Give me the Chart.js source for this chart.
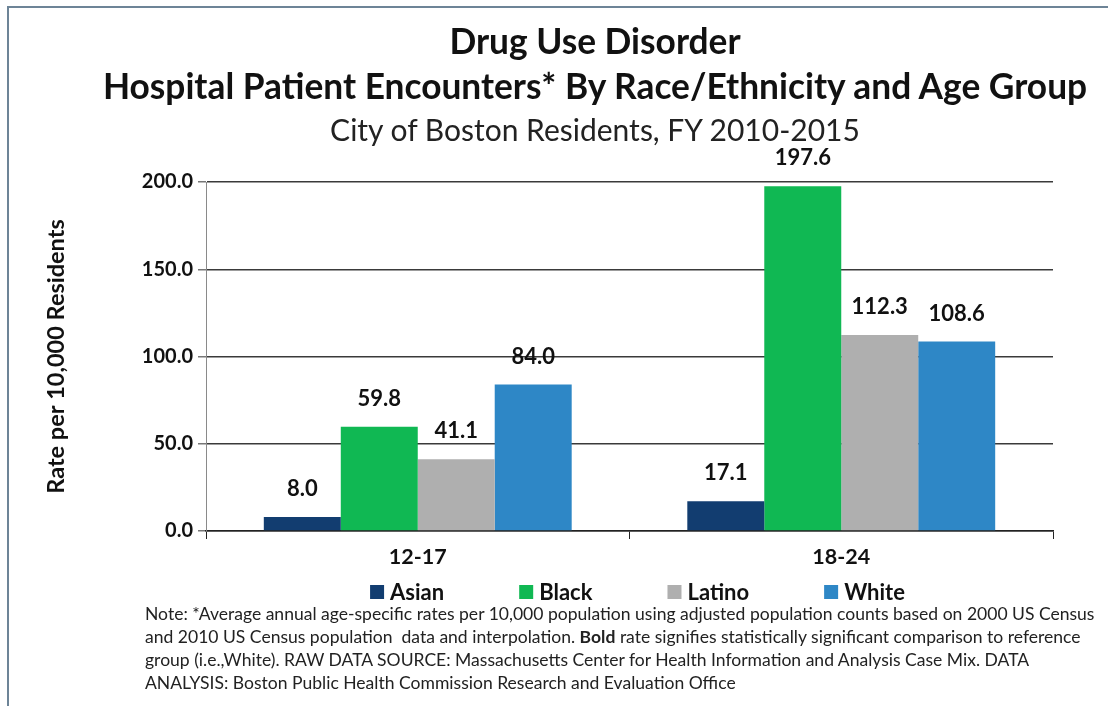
<!DOCTYPE html>
<html>
<head>
<meta charset="utf-8">
<title>Drug Use Disorder</title>
<script src="https://cdn.jsdelivr.net/npm/chart.js@4.4.1/dist/chart.umd.min.js"></script>
<style>
  html, body { margin: 0; padding: 0; background: #fff; width: 1108px; height: 706px; overflow: hidden; }
  #frame { position: absolute; left: 7px; top: 6px; width: 1200px; height: 800px;
           border-left: 2px solid #6d8497; border-top: 2px solid #6d8497; }
  #chart { position: absolute; left: 10px; top: 9px; }
  #titles { position: absolute; left: 10px; top: 17.5px; width: 1170px; text-align: center;
            font-family: Lato, sans-serif; color: #111; white-space: nowrap; }
  #titles .main { font-size: 35.3px; font-weight: bold; line-height: 45px; }
  #titles .sub { font-size: 30px; line-height: 43px; color: #222; }
  #note { position: absolute; left: 145px; top: 602px; font-family: Lato, sans-serif;
          font-size: 17px; line-height: 23px; color: #222; white-space: nowrap; }
  #note span { display: inline-block; }
</style>
</head>
<body>
<div id="frame"></div>
<canvas id="chart" width="1170" height="610"></canvas>
<div id="titles">
  <div class="main">Drug Use Disorder</div>
  <div class="main">Hospital Patient Encounters* By Race/Ethnicity and Age Group</div>
  <div class="sub">City of Boston Residents, FY 2010-2015</div>
</div>
<div id="note">
  <div><span id="noteFirst">Note: *Average annual age-specific rates per 10,000 population using adjusted population counts based on 2000 US Census</span></div>
  <div>and 2010 US Census population&nbsp; data and interpolation. <b>Bold</b> rate signifies statistically significant comparison to reference</div>
  <div>group (i.e.,White). RAW DATA SOURCE: Massachusetts Center for Health Information and Analysis Case Mix. DATA</div>
  <div>ANALYSIS: Boston Public Health Commission Research and Evaluation Office</div>
</div>
<script>
// Age groups on the x axis, one series per race/ethnicity
const ageGroups = ['12-17', '18-24'];
const races = ['Asian', 'Black', 'Latino', 'White'];
const asianRates = [8.0, 17.1];
const blackRates = [59.8, 197.6];
const latinoRates = [41.1, 112.3];
const whiteRates = [84.0, 108.6];
const yTicks = [0, 50, 100, 150, 200];

const raceColors = ['#123d70', '#10b853', '#afafaf', '#2e87c6'];
const seriesData = [asianRates, blackRates, latinoRates, whiteRates];

const FONT = 'Lato, sans-serif';

// size the footnote so its first line runs the width of the plot
const note = document.getElementById('note');
const firstLine = document.getElementById('noteFirst');
const noteWidth = 950;
note.style.fontSize = (17 * noteWidth / firstLine.getBoundingClientRect().width) + 'px';

// Value printed above each bar
const valueLabels = {
  id: 'valueLabels',
  afterDatasetsDraw(chart) {
    const ctx = chart.ctx;
    ctx.save();
    ctx.font = 'bold 22px ' + FONT;
    ctx.fillStyle = '#111';
    ctx.textAlign = 'center';
    ctx.textBaseline = 'middle';
    chart.data.datasets.forEach((ds, i) => {
      chart.getDatasetMeta(i).data.forEach((bar, j) => {
        ctx.fillText(ds.data[j].toFixed(1), bar.x, bar.y - 28);
      });
    });
    ctx.restore();
  }
};

// Single-row legend with even gaps between entries, under the axis labels
const legendRow = {
  id: 'legendRow',
  afterDraw(chart) {
    const ctx = chart.ctx;
    const box = 14, textGap = 6, gap = 75;
    ctx.save();
    ctx.font = 'bold 22px ' + FONT;
    const items = chart.data.datasets.map(ds => ({
      label: ds.label,
      color: ds.backgroundColor,
      w: box + textGap + ctx.measureText(ds.label).width
    }));
    const total = items.reduce((s, it) => s + it.w, 0) + gap * (items.length - 1);
    const area = chart.chartArea;
    let x = (area.left + area.right) / 2 - total / 2 + 8;
    const y = area.bottom + 61;
    ctx.textAlign = 'left';
    ctx.textBaseline = 'middle';
    items.forEach(it => {
      ctx.fillStyle = it.color;
      ctx.fillRect(x, y - box / 2, box, box);
      ctx.fillStyle = '#111';
      ctx.fillText(it.label, x + box + textGap, y + 1);
      x += it.w + gap;
    });
    ctx.restore();
  }
};

const ctx = document.getElementById('chart').getContext('2d');
const chart = new Chart(ctx, {
  type: 'bar',
  data: {
    labels: ageGroups,
    datasets: races.map((name, i) => ({
      label: name,
      data: seriesData[i],
      backgroundColor: raceColors[i],
      borderWidth: 0,
      categoryPercentage: 0.727,
      barPercentage: 1.0
    }))
  },
  options: {
    responsive: false,
    animation: false,
    // top padding leaves room for the heading block
    layout: { padding: { left: 10, right: 127, top: 173, bottom: 48 } },
    plugins: {
      legend: { display: false },
      tooltip: { enabled: false }
    },
    scales: {
      x: {
        grid: { display: true, drawOnChartArea: false, drawTicks: true, tickLength: 8, color: '#222', offset: true },
        border: { color: '#222', width: 1.5 },
        ticks: { padding: 5, color: '#111', font: { family: FONT, size: 21.5, weight: 'bold' } },
        afterFit(scale) { scale.height = 40; }
      },
      y: {
        min: yTicks[0],
        max: yTicks[yTicks.length - 1],
        afterBuildTicks(scale) { scale.ticks = yTicks.map(v => ({ value: v })); },
        afterFit(scale) { scale.width = 186; },
        grid: { color: '#3a3a3a', lineWidth: 1.5, tickLength: 8, tickColor: '#777' },
        border: { color: '#8a8a8a', width: 1 },
        ticks: {
          padding: 5, color: '#111',
          font: { family: FONT, size: 20, weight: 'bold' },
          callback: v => v.toFixed(1)
        },
        title: {
          display: true,
          text: 'Rate per 10,000 Residents',
          color: '#111',
          font: { family: FONT, size: 23.5, weight: 'bold', lineHeight: 1.2 },
          padding: { top: 22, bottom: 0 }
        }
      }
    }
  },
  plugins: [valueLabels, legendRow]
});
</script>
</body>
</html>
